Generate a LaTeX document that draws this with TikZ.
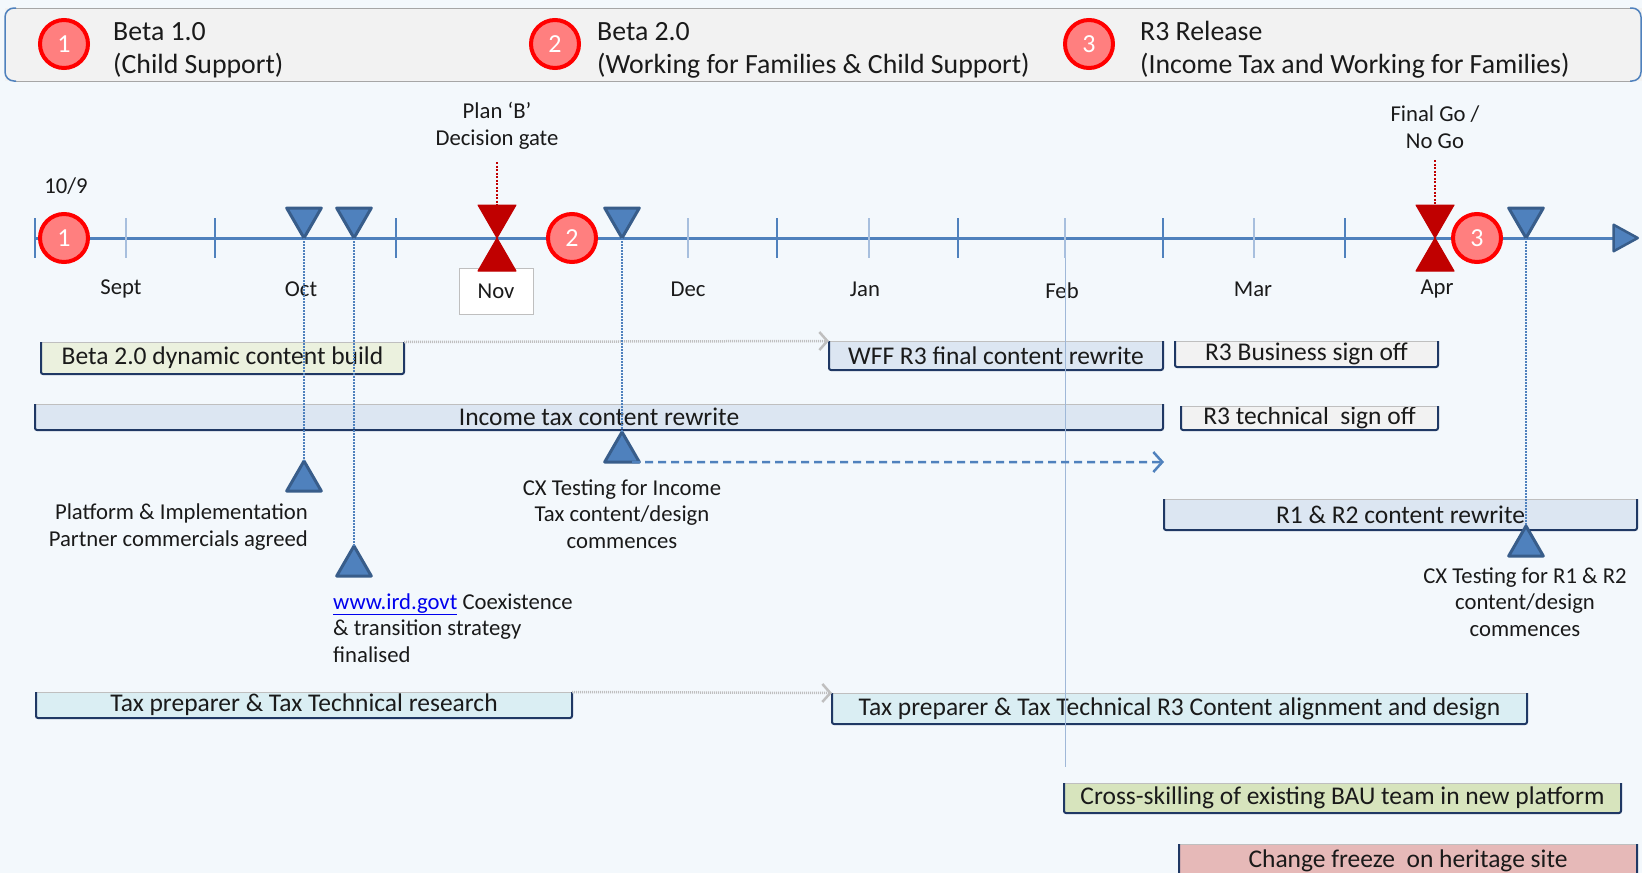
\documentclass[tikz,border=0pt]{standalone}
\usepackage{fontspec}
\setmainfont{Carlito}
\usetikzlibrary{shapes.geometric,arrows.meta}
\definecolor{bg}{HTML}{F3F8FC}
\definecolor{axisblue}{HTML}{4F81BD}
\definecolor{triedge}{HTML}{385D8A}
\definecolor{ticklight}{HTML}{A7BFDE}
\definecolor{gatered}{HTML}{C00000}
\definecolor{circfill}{HTML}{FF7F7F}
\definecolor{circedge}{HTML}{FF0000}
\definecolor{hdrfill}{HTML}{F2F2F2}
\definecolor{hdredge}{HTML}{A6A6A6}
\definecolor{navy}{HTML}{1F3864}
\definecolor{bargreen}{HTML}{EBF1DE}
\definecolor{barblue}{HTML}{DCE6F2}
\definecolor{bargray}{HTML}{F2F2F2}
\definecolor{baraqua}{HTML}{DAEEF3}
\definecolor{barolive}{HTML}{D7E4BD}
\definecolor{barpink}{HTML}{E6B9B8}
\definecolor{txt}{HTML}{1A1A1A}
\definecolor{linkblue}{HTML}{0000EE}
\definecolor{dotgray}{HTML}{BFBFBF}
\definecolor{vline}{HTML}{9FB8D8}
\newcommand\hdrfnt{\fontsize{27.8}{33}\selectfont}
\newcommand\smallfnt{\fontsize{22.7}{26.5}\selectfont}
\newcommand\barfnt{\fontsize{25.5}{28}\selectfont}
\newcommand\barframe[1]{%
  \draw[bartop] (#1.north west) -- (#1.north east);
  \draw[barside] (#1.north west) -- (#1.south west) -- (#1.south east) -- (#1.north east);}
\begin{document}
\begin{tikzpicture}[x=1pt,y=-1pt,
  hcirc/.style={circle, fill=circfill, draw=circedge, line width=4pt, minimum size=48pt, inner sep=0pt, text=white, font=\fontsize{26}{26}\selectfont},
  htext/.style={anchor=west, align=left, text=txt, font=\hdrfnt, inner sep=0pt},
  lbl/.style={text=txt, font=\smallfnt, inner sep=0pt, align=center},
  dtri/.style={regular polygon, regular polygon sides=3, shape border rotate=180, minimum size=40pt, inner sep=0pt, outer sep=0pt, fill=axisblue, draw=triedge, line width=3pt, line join=round},
  utri/.style={dtri, shape border rotate=0},
  gdown/.style={regular polygon, regular polygon sides=3, shape border rotate=180, minimum size=44pt, inner sep=0pt, outer sep=0pt, fill=gatered, draw=gatered, line width=1pt, line join=round},
  gup/.style={gdown, shape border rotate=0},
  bar/.style={rectangle, inner sep=0pt, outer sep=0pt, font=\barfnt, text=txt},
  bartop/.style={dotgray, line width=1pt},
  barside/.style={navy, line width=2pt, rounded corners=2pt},
  tickdark/.style={axisblue, line width=2pt},
  ticklt/.style={ticklight, line width=2pt},
  bluedot/.style={axisblue, line width=1.5pt, dash pattern=on 1.5pt off 1.5pt},
  reddot/.style={gatered, line width=2.5pt, dash pattern=on 2pt off 1.5pt},
  grayarrow/.style={dotgray, line width=2.5pt, dash pattern=on 1pt off 1pt, -{Straight Barb[length=8pt,width=18pt]}},
  dasharrow/.style={axisblue, line width=2.5pt, dash pattern=on 8pt off 5pt, -{Straight Barb[length=9pt,width=20pt]}},
  novbox/.style={rectangle, draw=dotgray, fill=white, line width=1pt, minimum width=74pt, minimum height=46pt, inner sep=0pt, text=txt, font=\smallfnt}
]
\path[use as bounding box, fill=bg] (0,0) rectangle (1642,873);

% header
\fill[hdrfill] (5,8) rectangle (1642,81);
\draw[hdredge, line width=1pt] (14,8) -- (1632,8);
\draw[hdredge, line width=1pt] (14,81) -- (1632,81);
\draw[axisblue, line width=1.5pt, rounded corners=9pt] (16,8) -- (5,8) -- (5,81) -- (16,81);
\draw[axisblue, line width=1.5pt, rounded corners=9pt] (1630,8) -- (1641,8) -- (1641,81) -- (1630,81);
\node[hcirc] (h1) at (64,44) {1};
\node[htext] (h1t) at (113,50) {Beta 1.0\\(Child Support)};
\node[hcirc] (h2) at (555,44) {2};
\node[htext] (h2t) at (597,50) {Beta 2.0\\(Working for Families \& Child Support)};
\node[hcirc] (h3) at (1089,44) {3};
\node[htext] (h3t) at (1140,50) {R3 Release\\(Income Tax and Working for Families)};

% axis
\coordinate (axs) at (35,238);
\coordinate (axe) at (1639,238);
\draw[axisblue, line width=3pt, -{Triangle[length=28pt,width=30pt,fill=axisblue,color=triedge,line width=2.5pt,round]}] (axs) -- (axe);
\foreach \x in {35,215,396,777,958,1163,1345} \draw[tickdark] (\x,218) -- (\x,258);
\foreach \x in {126,688,869,1065,1254} \draw[ticklt] (\x,218) -- (\x,258);

% month labels
\node[lbl] (d109) at (66,186) {10/9};
\node[lbl] (mSep) at (121,289) {Sept};
\node[lbl] (mOct) at (301,289) {Oct};
\node[novbox] (mNov) at (496,291) {Nov};
\node[lbl] (mDec) at (688,289) {Dec};
\node[lbl] (mJan) at (865,289) {Jan};
\node[lbl] (mFeb) at (1062,291) {Feb};
\node[lbl] (mMar) at (1253,289) {Mar};
\node[lbl] (mApr) at (1437,289) {Apr};

% gates
\node[lbl] (g1lab) at (497,126) {Plan ‘B’\\Decision gate};
\node[lbl] (g2lab) at (1435,127) {Final Go /\\No Go};
\node[gdown] (g1u) at (497,216) {};
\node[gup] (g1d) at (497,260) {};
\node[gdown] (g2u) at (1435,216) {};
\node[gup] (g2d) at (1435,260) {};
\coordinate (g1top) at (497,162);
\coordinate (g2top) at (1435,160);
\draw[reddot] (g1top) -- (g1u.north);
\draw[reddot] (g2top) -- (g2u.north);

% circles on axis
\node[hcirc] (a1) at (64,238) {1};
\node[hcirc] (a2) at (572,238) {2};
\node[hcirc] (a3) at (1477,238) {3};

% down triangles
\node[dtri] (d1) at (304,218) {};
\node[dtri] (d2) at (354,218) {};
\node[dtri] (d3) at (622,218) {};
\node[dtri] (d4) at (1526,218) {};

% bars
\node[bar, fill=bargreen, minimum width=363pt, minimum height=32pt] (b1) at (222.5,358) {Beta 2.0 dynamic content build};
\node[bar, fill=barblue, minimum width=334pt, minimum height=29pt] (b2) at (996,355.5) {WFF R3 final content rewrite};
\node[bar, fill=bargray, minimum width=263pt, minimum height=26pt] (b3) at (1306.5,354) {R3 Business sign off};
\node[bar, fill=barblue, minimum width=1128pt, minimum height=26pt] (b4) at (599,417) {Income tax content rewrite};
\node[bar, fill=bargray, minimum width=257pt, minimum height=24pt] (b5) at (1309.5,418) {R3 technical\ \ sign off};
\node[bar, fill=barblue, minimum width=473pt, minimum height=31pt] (b6) at (1400.5,514.5) {R1 \& R2 content rewrite};
\node[bar, fill=baraqua, minimum width=536pt, minimum height=26pt] (b7) at (304,705) {Tax preparer \& Tax Technical research};
\node[bar, fill=baraqua, minimum width=695pt, minimum height=31pt] (b8) at (1179.5,708.5) {Tax preparer \& Tax Technical R3 Content alignment and design};
\node[bar, fill=barolive, minimum width=557pt, minimum height=30pt] (b9) at (1342.5,798) {Cross-skilling of existing BAU team in new platform};
\node[bar, fill=barpink, minimum width=458pt, minimum height=34pt] (b10) at (1408,861) {Change freeze\ \ on heritage site};
\foreach \b in {b1,b2,b3,b4,b5,b6,b7,b8,b9,b10} {\barframe{\b}}

% gray dotted arrows between bars
\draw[grayarrow] (b1.north east) -- (b2.north west);
\draw[grayarrow] (b7.north east) -- (b8.north west);

% faint vertical line
\coordinate (vbot) at (1065,767);
\draw[vline, line width=0.8pt] (1065,258) -- (vbot);

% up triangles
\node[utri] (u1) at (304,481) {};
\node[utri] (u2) at (354,566) {};
\node[utri] (u3) at (622,452) {};
\node[utri] (u4) at (1526,546) {};
\draw[bluedot] (d1.south) -- (u1.north);
\draw[bluedot] (d2.south) -- (u2.north);
\draw[bluedot] (d3.south) -- (u3.north);
\draw[bluedot] (d4.south) -- (u4.north);

% dashed arrow
\coordinate (dashend) at (1164,462);
\draw[dasharrow] (u3.south east) -- (dashend);

% milestone texts
\node[lbl, anchor=east, align=right] (t1) at (308,527) {Platform \& Implementation\\Partner commercials agreed};
\node[lbl, anchor=west, align=left] (t2) at (333,628) {{\color{linkblue}\underline{www.ird.govt}} Coexistence\\\& transition strategy\\finalised};
\node[lbl] (t3) at (622,514) {CX Testing for Income\\Tax content/design\\commences};
\node[lbl] (t4) at (1525,602) {CX Testing for R1 \& R2\\content/design\\commences};
\end{tikzpicture}
\end{document}
